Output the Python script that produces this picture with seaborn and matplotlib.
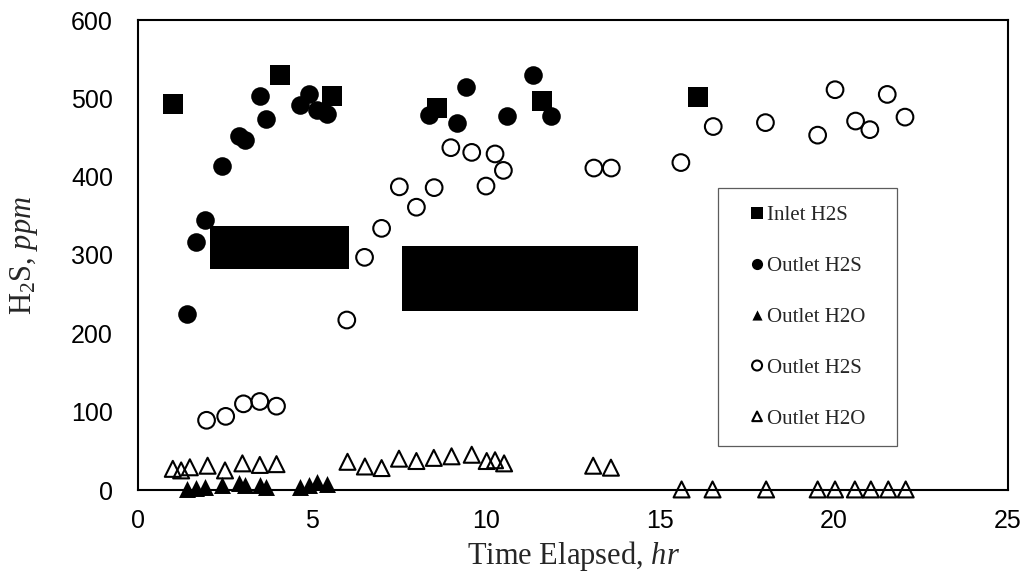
import matplotlib
matplotlib.use("Agg")
import matplotlib.pyplot as plt
import seaborn as sns
import numpy as np

# ---------------- data ----------------
inlet_t = [1.0, 4.08, 5.58, 8.6, 11.6, 16.1]
inlet_h2s = [493, 530, 503, 488, 496, 502]

outlet_t = [1.4, 1.67, 1.92, 2.41, 2.91, 3.07, 3.5, 3.67, 4.66, 4.91, 5.15, 5.42,
            8.36, 9.18, 9.43, 10.59, 11.36, 11.86]
outlet_h2s = [225, 317, 345, 413, 452, 447, 503, 474, 491, 506, 485, 480,
              479, 468, 515, 477, 530, 477]

outlet_h2o_t = [1.4, 1.67, 1.92, 2.41, 2.91, 3.07, 3.5, 3.67, 4.66, 4.91, 5.15, 5.42]
outlet_h2o = [1.3, 3, 4.3, 6.4, 8.5, 6.4, 6.4, 4.3, 4.3, 6.4, 10.6, 7.2]

outlet2_t = [1.97, 2.52, 3.03, 3.5, 3.98, 6.0, 6.51, 7.0, 7.51, 8.0, 8.51, 8.99,
             9.59, 10.0, 10.26, 10.5, 13.1, 13.6, 15.6, 16.53, 18.03, 19.53,
             20.03, 20.62, 21.03, 21.53, 22.04]
outlet2_h2s = [89, 94, 110, 113, 107, 217, 297, 334, 387, 361, 386, 437,
               431, 388, 429, 408, 411, 411, 418, 464, 469, 453,
               511, 471, 460, 505, 476]

outlet2_h2o_t = [1.0, 1.24, 1.49, 2.0, 2.5, 3.0, 3.5, 3.98, 6.02, 6.52, 7.0, 7.5,
                 8.0, 8.5, 9.01, 9.59, 10.02, 10.26, 10.52, 13.08, 13.59, 15.62,
                 16.51, 18.05, 19.53, 20.03, 20.6, 21.06, 21.56, 22.06]
outlet2_h2o = [27, 25, 29, 31, 25, 34, 32, 33, 36, 30, 28, 40,
               37, 41, 43, 45, 37, 38, 34, 31, 28.5, 0.7,
               0.7, 0.7, 0.7, 0.7, 0.7, 0.7, 0.7, 0.7]

# opaque blocks present in the source image
block_left = [2.07, 7.6]
block_right = [6.06, 14.36]
block_bottom = [282, 228]
block_top = [337, 311]

x_ticks = [0, 5, 10, 15, 20, 25]
y_ticks = [0, 100, 200, 300, 400, 500, 600]

# ---------------- style ----------------
sns.set_style("white")
plt.rcParams["font.family"] = ["Liberation Sans", "DejaVu Sans"]
plt.rcParams["mathtext.fontset"] = "custom"
plt.rcParams["mathtext.rm"] = "Liberation Serif"
plt.rcParams["mathtext.it"] = "Liberation Serif:italic"

fig = plt.figure(figsize=(10.32, 5.88), dpi=100)
ax = fig.add_axes([138 / 1032, (588 - 490) / 588, 870 / 1032, 470 / 588])

sq = 14.4 ** 2
circ = 13.4 ** 2
circ_open = 12.0 ** 2
tri = 12.2 ** 2
tri_open = 11.5 ** 2

sns.scatterplot(x=inlet_t, y=inlet_h2s, marker="s", s=sq, color="black",
                linewidth=0, label="Inlet H2S", ax=ax, clip_on=False, zorder=3)
sns.scatterplot(x=outlet_t, y=outlet_h2s, marker="o", s=circ, color="black",
                linewidth=0, label="Outlet H2S", ax=ax, clip_on=False, zorder=3)
sns.scatterplot(x=outlet_h2o_t, y=outlet_h2o, marker="^", s=tri, color="black",
                linewidth=0, label="Outlet H2O", ax=ax, clip_on=False, zorder=3)
sns.scatterplot(x=outlet2_t, y=outlet2_h2s, marker="o", s=circ_open, color="black",
                facecolor="none", edgecolor="black", linewidth=1.5,
                label="Outlet H2S", ax=ax, clip_on=False, zorder=3)
sns.scatterplot(x=outlet2_h2o_t, y=outlet2_h2o, marker="^", s=tri_open, color="black",
                facecolor="none", edgecolor="black", linewidth=1.5,
                label="Outlet H2O", ax=ax, clip_on=False, zorder=3)

widths = [r - l for l, r in zip(block_left, block_right)]
heights = [t - b for b, t in zip(block_bottom, block_top)]
ax.bar(block_left, heights, width=widths, bottom=block_bottom, align="edge",
       color="black", linewidth=0, zorder=4)

ax.set_xlim(0, 25)
ax.set_ylim(0, 600)
ax.set_xticks(x_ticks)
ax.set_yticks(y_ticks)
ax.tick_params(axis="both", length=0, labelsize=18, colors="black")
ax.tick_params(axis="x", pad=14)
ax.tick_params(axis="y", pad=18)
for sp in ax.spines.values():
    sp.set_visible(True)
    sp.set_color("black")
    sp.set_linewidth(1.5)

ax.set_xlabel("Time Elapsed, $hr$", fontsize=22, family="Liberation Serif",
              labelpad=4)
ax.set_ylabel("H$_2$S, $ppm$", fontsize=22, family="Liberation Serif",
              labelpad=22)

leg_top = (490 - 188) / 470
leg = ax.legend(loc="upper left",
                bbox_to_anchor=(580 / 870, leg_top - 0.1, 179 / 870, 0.1),
                mode="expand", borderaxespad=0, borderpad=0.85,
                labelspacing=1.5, handlelength=2.05, handletextpad=-0.54,
                markerscale=0.6, scatterpoints=1, scatteryoffsets=[0.5],
                frameon=True, fancybox=False,
                prop={"family": "Liberation Serif", "size": 15})
leg.get_frame().set_edgecolor("#333333")
leg.get_frame().set_linewidth(0.9)

fig.savefig("out.png", dpi=100)
